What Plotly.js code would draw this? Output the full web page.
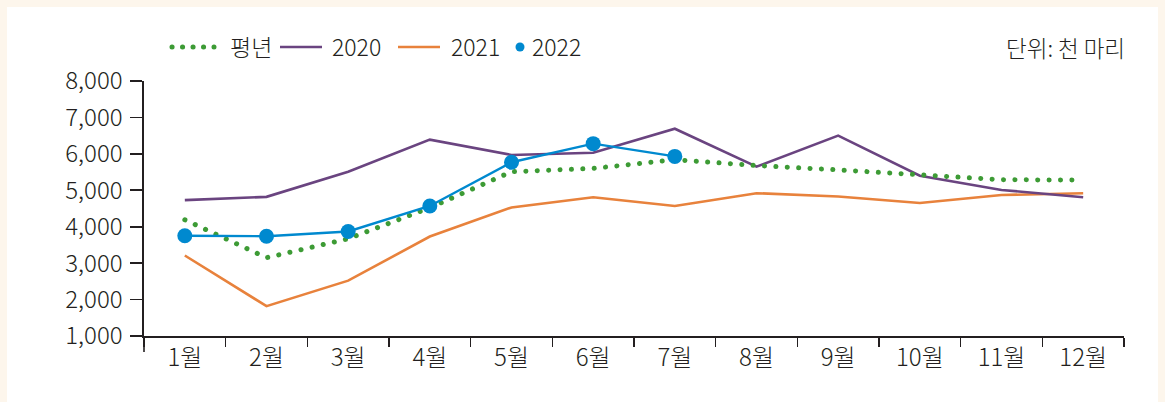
<!DOCTYPE html>
<html>
<head>
<meta charset="utf-8">
<script src="https://cdn.plot.ly/plotly-3.0.1.min.js"></script>
<style>
  html, body { margin: 0; padding: 0; background: #fdf6ec; width: 1165px; height: 402px; overflow: hidden; }
  #chart { position: absolute; left: 7px; top: 7px; width: 1151px; height: 395px; background: #ffffff; }
</style>
</head>
<body>
<div id="chart"></div>
<script>
const months = ['1월','2월','3월','4월','5월','6월','7월','8월','9월','10월','11월','12월'];
const avgValues = [4190, 3150, 3670, 4520, 5510, 5600, 5840, 5680, 5560, 5440, 5290, 5280];
const values2020 = [4730, 4820, 5510, 6390, 5970, 6030, 6690, 5650, 6500, 5400, 5010, 4810];
const values2021 = [3210, 1820, 2520, 3730, 4530, 4810, 4570, 4920, 4830, 4650, 4870, 4920];
const values2022 = [3750, 3740, 3870, 4570, 5770, 6280, 5930];
const seriesNames = ['평년', '2020', '2021', '2022'];
const unitLabel = '단위: 천 마리';

const FONT = '"Noto Sans CJK KR", "Noto Sans", sans-serif';
const W = 300;
const TEXT = '#231f20';
const GREEN = '#3d9b35', PURPLE = '#6a4480', ORANGE = '#e8823c', BLUE = '#0089cf';

const traces = [
  { name: seriesNames[2], x: months, y: values2021, type: 'scatter', mode: 'lines',
    line: { color: ORANGE, width: 2.6 }, legendrank: 3 },
  { name: seriesNames[1], x: months, y: values2020, type: 'scatter', mode: 'lines',
    line: { color: PURPLE, width: 2.6 }, legendrank: 2 },
  { name: seriesNames[0], x: months, y: avgValues, type: 'scatter', mode: 'lines',
    line: { color: GREEN, width: 5, dash: '5px,6px' }, legendrank: 1 },
  { name: seriesNames[3], x: months.slice(0, values2022.length), y: values2022, type: 'scatter', mode: 'lines+markers',
    line: { color: BLUE, width: 2.4 }, marker: { color: BLUE, size: 15 }, showlegend: false },
  { name: seriesNames[3], x: [null], y: [null], type: 'scatter', mode: 'markers',
    marker: { color: BLUE, size: 9 }, legendrank: 4, hoverinfo: 'skip' }
];

const layout = {
  width: 1151, height: 395,
  margin: { l: 137, r: 34, t: 74, b: 66 },
  paper_bgcolor: '#ffffff', plot_bgcolor: '#ffffff',
  font: { family: FONT, size: 23, color: TEXT, weight: W },
  showlegend: true,
  legend: {
    orientation: 'h', x: 0.022, xanchor: 'left', y: 1.133, yanchor: 'middle',
    font: { family: FONT, size: 23, color: TEXT, weight: W }, itemwidth: 42,
    bgcolor: 'rgba(0,0,0,0)', traceorder: 'normal'
  },
  xaxis: {
    type: 'category', range: [-0.5, 11.5], fixedrange: true,
    showline: true, linecolor: TEXT, linewidth: 1.6,
    ticks: 'outside', tickson: 'boundaries', ticklen: 9, tickwidth: 1.6, tickcolor: TEXT,
    showgrid: false, zeroline: false,
    tickfont: { family: FONT, size: 24, color: TEXT, weight: W }
  },
  yaxis: {
    range: [1000, 8000], dtick: 1000, tickformat: ',d', fixedrange: true,
    showline: true, linecolor: TEXT, linewidth: 1.6,
    ticks: 'outside', ticklen: 12, tickwidth: 1.6, tickcolor: TEXT,
    ticklabelstandoff: 3,
    showgrid: false, zeroline: false,
    tickfont: { family: FONT, size: 24, color: TEXT, weight: W }
  },
  shapes: [
    { type: 'line', xref: 'paper', yref: 'paper', x0: 0, x1: 0, y0: 0, y1: -0.063,
      line: { color: TEXT, width: 1.6 } }
  ],
  annotations: [
    { text: unitLabel, xref: 'paper', yref: 'paper', x: 1, y: 1.133, xanchor: 'right', yanchor: 'middle',
      xshift: 3, showarrow: false, font: { family: FONT, size: 22.5, color: TEXT, weight: W } }
  ]
};

// target page positions of legend parts: [symbol left (or dot centre), text left]
const legendTargets = { '평년': [172, 230, 'left'], '2020': [280, 332, 'left'], '2021': [398, 451, 'left'], '2022': [520, 532, 'center'] };

Plotly.newPlot('chart', traces, layout, { staticPlot: true, displayModeBar: false }).then(function (gd) {
  // round the dots of the dotted average line
  const traceGroups = gd.querySelectorAll('.scatterlayer .trace');
  if (traceGroups[2]) {
    traceGroups[2].querySelectorAll('path.js-line').forEach(function (p) {
      p.style.strokeLinecap = 'round';
      p.style.strokeDasharray = '0.1px,11.3px';
    });
  }
  gd.querySelectorAll('.legend, .legend *').forEach(function (el) {
    if (el.hasAttribute && el.hasAttribute('clip-path')) el.removeAttribute('clip-path');
  });
  gd.querySelectorAll('.legend .traces').forEach(function (t) {
    const txt = t.querySelector('text.legendtext');
    const key = txt ? txt.textContent.trim() : '';
    if (key === '평년') {
      t.querySelectorAll('path.js-line').forEach(function (p) {
        let L = 42;
        try { L = p.getTotalLength(); } catch (e) {}
        p.style.strokeLinecap = 'round';
        p.style.strokeDasharray = '0.1px,' + ((L - 0.4) / 4).toFixed(2) + 'px';
      });
    }
    const tgt = legendTargets[key];
    if (!tgt) return;
    const parts = Array.from(t.children).filter(function (c) {
      return c.tagName.toLowerCase() === 'g';
    });
    let minL = Infinity, maxR = -Infinity;
    parts.forEach(function (c) {
      const r = c.getBoundingClientRect();
      if (r.width > 0) { minL = Math.min(minL, r.left); maxR = Math.max(maxR, r.right); }
    });
    if (isFinite(minL)) {
      const cur = tgt[2] === 'center' ? (minL + maxR) / 2 : minL;
      const dx = tgt[0] - cur;
      parts.forEach(function (c) {
        const tr = c.getAttribute('transform') || '';
        c.setAttribute('transform', 'translate(' + dx + ',0) ' + tr);
      });
    }
    if (txt) {
      const r = txt.getBoundingClientRect();
      const dx = tgt[1] - r.left;
      const tr = txt.getAttribute('transform') || '';
      txt.setAttribute('transform', 'translate(' + dx + ',0) ' + tr);
    }
  });
});
</script>
</body>
</html>
